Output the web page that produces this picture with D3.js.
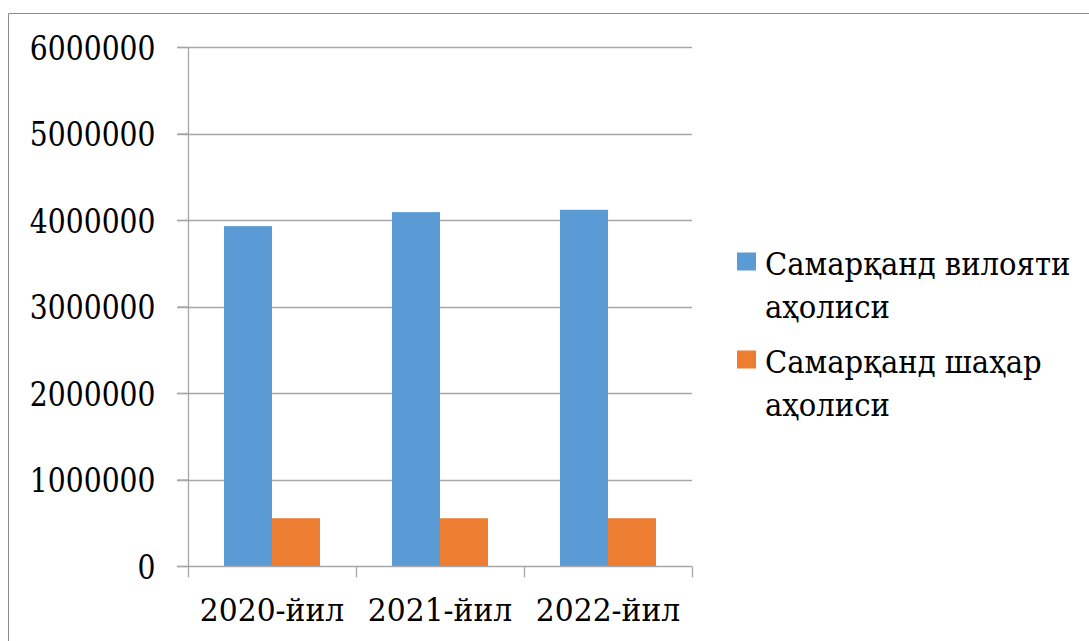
<!DOCTYPE html>
<html>
<head>
<meta charset="utf-8">
<script src="https://cdn.jsdelivr.net/npm/d3@7"></script>
<style>
  html, body { margin: 0; padding: 0; background: #fff; }
  svg { display: block; }
</style>
</head>
<body>
<svg id="chart" width="1089" height="641"></svg>
<script>
// Population of Samarkand region and city by year
const categories = ["2020-йил", "2021-йил", "2022-йил"];
const seriesNames = ["Самарқанд вилояти аҳолиси", "Самарқанд шаҳар аҳолиси"];
const regionValues = [3929000, 4091000, 4118000];
const cityValues = [552000, 552000, 552000];
const yTicks = [0, 1000000, 2000000, 3000000, 4000000, 5000000, 6000000];
const colors = ["#5B9BD5", "#ED7D31"];

const series = [regionValues, cityValues];
const svg = d3.select("#chart");
const font = '"DejaVu Serif", serif';
// Narrow the wide serif face towards a Times-like width by scaling each
// text horizontally about its own anchor point
function narrow(sel, k) {
  sel.each(function () {
    const t = d3.select(this);
    const tx = +t.attr("x") || 0;
    const ty = +t.attr("y") || 0;
    t.attr("x", 0).attr("y", 0)
      .attr("transform", `translate(${tx},${ty}) scale(${k},1)`);
  });
}

// Outer chart frame (runs off the right and bottom edges)
svg.append("path")
  .attr("d", "M8.5,641 V13.5 H1089")
  .attr("fill", "none")
  .attr("stroke", "#8c8c8c")
  .attr("stroke-width", 1);

const plot = { left: 188, right: 692, top: 47, bottom: 566 };

const x = d3.scaleBand().domain(categories).range([plot.left, plot.right]).paddingInner(0).paddingOuter(0);
const y = d3.scaleLinear().domain([0, 6000000]).range([plot.bottom, plot.top]);

// Horizontal gridlines
svg.append("g").selectAll("line").data(yTicks.filter(d => d > 0)).join("line")
  .attr("x1", plot.left - 11).attr("x2", plot.right)
  .attr("y1", d => Math.round(y(d)) + 0.5).attr("y2", d => Math.round(y(d)) + 0.5)
  .attr("stroke", "#a6a6a6").attr("stroke-width", 1.3);

// Bars: two per category, occupying 96 of the 168 px band
const groupFrac = 96 / 168;
const barW = x.bandwidth() * groupFrac / series.length;
const offset = (x.bandwidth() - barW * series.length) / 2;
series.forEach((vals, si) => {
  svg.append("g").selectAll("rect").data(vals).join("rect")
    .attr("x", (d, i) => x(categories[i]) + offset + si * barW)
    .attr("y", d => y(d))
    .attr("width", barW)
    .attr("height", d => y(0) - y(d))
    .attr("fill", colors[si]);
});

// Y axis
const yAxis = svg.append("g")
  .attr("transform", `translate(${plot.left + 0.5},0)`)
  .call(d3.axisLeft(y).tickValues(yTicks).tickSize(11).tickPadding(22).tickFormat(d3.format("d")));
yAxis.attr("font-family", font).attr("font-size", 34);
yAxis.select(".domain").attr("stroke", "#a6a6a6").attr("stroke-width", 1.3).attr("d", `M0,${plot.top}V${plot.bottom}`);
yAxis.selectAll(".tick line").attr("stroke", "#a6a6a6").attr("stroke-width", 1.3);
yAxis.selectAll(".tick text").attr("fill", "#000").attr("dy", "0.365em").call(narrow, 0.83);

// X axis with ticks at band boundaries
const xg = svg.append("g").attr("transform", `translate(0,${plot.bottom + 0.5})`);
xg.append("line").attr("x1", plot.left - 11).attr("x2", plot.right)
  .attr("stroke", "#a6a6a6").attr("stroke-width", 1.3);
const boundaries = categories.map(c => x(c)).concat([x(categories[categories.length - 1]) + x.bandwidth()]);
xg.selectAll("line.tk").data(boundaries).join("line").attr("class", "tk")
  .attr("x1", d => Math.round(d) + 0.5).attr("x2", d => Math.round(d) + 0.5)
  .attr("y1", 0).attr("y2", 11)
  .attr("stroke", "#a6a6a6").attr("stroke-width", 1.3);
xg.selectAll("text").data(categories).join("text")
  .attr("x", d => x(d) + x.bandwidth() / 2)
  .attr("y", 54.5)
  .attr("text-anchor", "middle")
  .attr("font-family", font).attr("font-size", 31).attr("fill", "#000")
  .text(d => d)
  .call(narrow, 0.96);

// Legend
const legendLines = [["Самарқанд вилояти", "аҳолиси"], ["Самарқанд шаҳар", "аҳолиси"]];
const legendTop = [252.5, 350.5];
const legend = svg.append("g");
seriesNames.forEach((name, i) => {
  const gy = legendTop[i];
  legend.append("rect").attr("x", 737).attr("y", gy).attr("width", 19).attr("height", 18).attr("fill", colors[i]);
  legendLines[i].forEach((ln, j) => {
    legend.append("text")
      .attr("x", 765).attr("y", gy + 22.5 + j * 42.5)
      .attr("font-family", font).attr("font-size", 32).attr("fill", "#000")
      .text(ln)
      .call(narrow, 0.91);
  });
});
</script>
</body>
</html>
